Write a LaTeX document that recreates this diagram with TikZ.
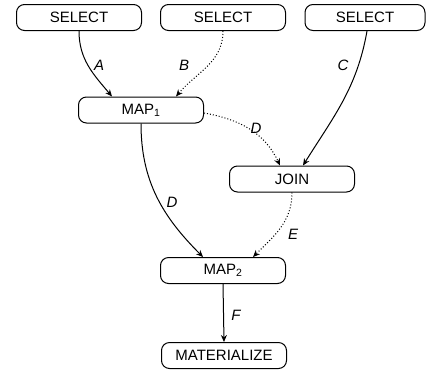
\documentclass[tikz,border=0pt]{standalone}
\usepackage{fontspec}
\setmainfont{Liberation Sans}
\usetikzlibrary{arrows.meta}
\begin{document}
\begin{tikzpicture}[x=1pt,y=-1pt,
  op/.style={draw,line width=1pt,rounded corners=8pt,minimum width=125pt,minimum height=26pt,inner sep=0pt,font=\fontsize{15}{17}\selectfont},
  flow/.style={line width=1pt,-{Stealth[length=7pt,width=6pt]}},
  lazy/.style={flow,dotted},
  lbl/.style={font=\fontsize{15}{17}\selectfont\itshape}]
\useasboundingbox (0,0) rectangle (427,375);
\node[op] (s1) at (79,17.5) {SELECT};
\node[op] (s2) at (223,17.5) {SELECT};
\node[op,minimum width=120pt] (s3) at (365,17.5) {SELECT};
\node[op] (m1) at (141,110) {MAP\textsubscript{1}};
\node[op] (j) at (292,179) {JOIN};
\node[op] (m2) at (223,270.5) {MAP\textsubscript{2}};
\node[op] (mat) at (224,355.5) {MATERIALIZE};

\draw[flow] (s1.south) to[out=-90,in=130] ([xshift=-29pt]m1.north);
\draw[lazy] (s2.south) to[out=-90,in=50] ([xshift=35pt]m1.north);
\draw[flow] ([xshift=2pt]s3.south) to[out=-100,in=58] ([xshift=11pt]j.north);
\draw[lazy] ([yshift=-3pt]m1.east) to[out=-10,in=115] ([xshift=-12pt]j.north);
\draw[flow] (m1.south) to[out=-90,in=135] ([xshift=-20pt]m2.north);
\draw[lazy] (j.south) to[out=-90,in=45] ([xshift=30pt]m2.north);
\draw[flow] (m2.south) -- (mat.north);

\node[lbl] (la) at (99,65) {A};
\node[lbl] (lb) at (184,65) {B};
\node[lbl] (lc) at (343,65) {C};
\node[lbl] (ld1) at (256,128) {D};
\node[lbl] (ld2) at (172,202) {D};
\node[lbl] (le) at (293,234) {E};
\node[lbl] (lf) at (236,315) {F};
\end{tikzpicture}
\end{document}
